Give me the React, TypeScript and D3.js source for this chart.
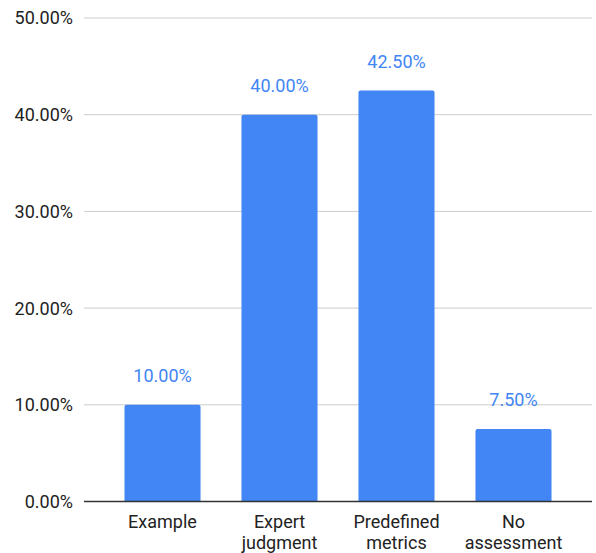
import React from "react";
import * as d3 from "d3";

const categories: string[][] = [
  ["Example"],
  ["Expert", "judgment"],
  ["Predefined", "metrics"],
  ["No", "assessment"],
];
const values: number[] = [0.1, 0.4, 0.425, 0.075];
const yTicks: number[] = [0, 0.1, 0.2, 0.3, 0.4, 0.5];

const W = 596;
const H = 553;
const left = 84;
const right = 592;
const top = 18;
const bottom = 501.5;

const FONT = "Roboto, 'Noto Sans', sans-serif";
const BAR = "#4285F4";
const FS = 18;

export default function App() {
  const x = d3
    .scaleBand<number>()
    .domain(values.map((_, i) => i))
    .range([left, right])
    .paddingInner(0.35)
    .paddingOuter(0.346);
  const y = d3.scaleLinear().domain([0, 0.5]).range([bottom, top]);
  const fmt = d3.format(".2%");
  const r = 2;

  const barPath = (x0: number, y0: number, w: number, y1: number) => {
    const p = d3.path();
    p.moveTo(x0, y1);
    p.lineTo(x0, y0 + r);
    p.quadraticCurveTo(x0, y0, x0 + r, y0);
    p.lineTo(x0 + w - r, y0);
    p.quadraticCurveTo(x0 + w, y0, x0 + w, y0 + r);
    p.lineTo(x0 + w, y1);
    p.closePath();
    return p.toString();
  };

  return (
    <svg
      width={W}
      height={H}
      style={{ position: "absolute", left: 0, top: 0, background: "#fff" }}
    >
      {yTicks.map((t) => (
        <g key={t}>
          {t > 0 && (
            <line x1={left} x2={right} y1={y(t)} y2={y(t)} stroke="#cccccc" strokeWidth={1} />
          )}
          <text
            x={73}
            y={y(t)}
            dy="0.36em"
            textAnchor="end"
            fontFamily={FONT}
            fontSize={FS}
            fill="#222"
          >
            {fmt(t)}
          </text>
        </g>
      ))}
      {values.map((v, i) => {
        const x0 = x(i)!;
        const w = x.bandwidth();
        const cx = x0 + w / 2;
        return (
          <g key={i}>
            <path d={barPath(x0, y(v), w, bottom)} fill={BAR} />
            <text
              x={cx}
              y={y(v) - 23}
              textAnchor="middle"
              fontFamily={FONT}
              fontSize={FS}
              fill={BAR}
            >
              {fmt(v)}
            </text>
            <text textAnchor="middle" fontFamily={FONT} fontSize={FS} fill="#222">
              {categories[i].map((line, j) => (
                <tspan key={j} x={cx} y={528 + j * 21}>
                  {line}
                </tspan>
              ))}
            </text>
          </g>
        );
      })}
      <line x1={left} x2={right} y1={bottom} y2={bottom} stroke="#333" strokeWidth={1.6} />
    </svg>
  );
}
